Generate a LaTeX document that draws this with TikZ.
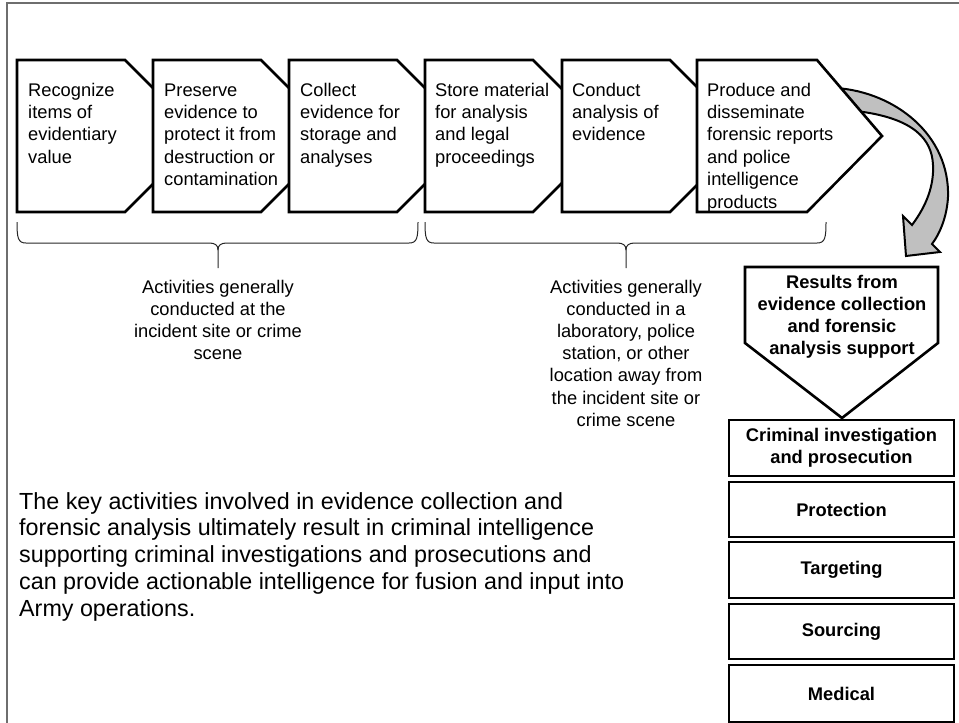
\documentclass[tikz,border=0pt]{standalone}
\usepackage{fontspec}
\setmainfont{Liberation Sans}
\definecolor{arrowgray}{HTML}{C0C0C0}
\definecolor{framegray}{HTML}{6E6E6E}
% stacked lines whose baseline is that of the first line
\newcommand{\leftlines}[1]{\begin{tabular}[t]{@{}l@{}}#1\end{tabular}}
\newcommand{\midlines}[1]{\begin{tabular}[t]{@{}c@{}}#1\end{tabular}}
\begin{document}
\begin{tikzpicture}[x=1pt,y=-1pt]
\tikzset{
  stage/.style={draw=black, line width=2.6pt, fill=white, line join=miter},
  stagetext/.style={anchor=base west, inner sep=0pt,
    font=\fontsize{18.3}{22.4}\selectfont},
  bracetext/.style={anchor=base, inner sep=0pt,
    font=\fontsize{18.3}{22.2}\selectfont},
  bracepath/.style={draw=black!85, line width=1pt},
  outbox/.style={draw=black, line width=2.6pt, fill=white, line join=miter},
  boldtext/.style={anchor=base, inner sep=0pt,
    font=\bfseries\fontsize{18.3}{22}\selectfont},
  resultbox/.style={outbox, minimum width=225pt, inner sep=0pt, align=center,
    font=\bfseries\fontsize{18.3}{22}\selectfont},
  frameline/.style={draw=framegray, line width=1.2pt},
  bodytext/.style={anchor=base west, inner sep=0pt,
    font=\fontsize{23.3}{26.8}\selectfont}
}
\useasboundingbox (0,0) rectangle (959,723);

% page frame
\draw[frameline] (7,723) -- (7,3) -- (959,3);

% curved ribbon arrow leading from the last stage to the results
\draw[fill=arrowgray, draw=black, line width=2pt, line join=miter]
  (836,88) .. controls (895,92) and (950,135) .. (948,197)
  .. controls (947,215) and (941,232) .. (932,244)
  -- (940,252) -- (906,256) -- (903,216) -- (912,225)
  .. controls (927,205) and (934,185) .. (933,165)
  .. controls (932,140) and (915,118) .. (856,111) -- cycle;

% process stages, each overlapping the point of the previous one
\foreach \L in {17,153,289,425,562}{
  \draw[stage] (\L,60) -- ++(108,0) -- ++(76,76) -- ++(-76,76) -- ++(-108,0) -- cycle;
}
\draw[stage] (697,60) -- (817,60) -- (882,136) -- (807,212) -- (697,212) -- cycle;

\node[stagetext] (s1) at (28,96) {\leftlines{Recognize\\items of\\evidentiary\\value}};
\node[stagetext] (s2) at (164,96) {\leftlines{Preserve\\evidence to\\protect it from\\destruction or\\contamination}};
\node[stagetext] (s3) at (300,96) {\leftlines{Collect\\evidence for\\storage and\\analyses}};
\node[stagetext] (s4) at (435,96) {\leftlines{Store material\\for analysis\\and legal\\proceedings}};
\node[stagetext] (s5) at (572,96) {\leftlines{Conduct\\analysis of\\evidence}};
\node[stagetext] (s6) at (707,96) {\leftlines{Produce and\\disseminate\\forensic reports\\and police\\intelligence\\products}};

% braces grouping the stages
\draw[bracepath] (17,222) .. controls (17,238) and (18,243) .. (26,243) -- (209,243)
  .. controls (215,243) and (218,245) .. (218,250) -- (218,268);
\draw[bracepath] (218,250) .. controls (218,245) and (221,243) .. (227,243) -- (409,243)
  .. controls (417,243) and (418,238) .. (418,222);
\draw[bracepath] (425,222) .. controls (425,238) and (426,243) .. (434,243) -- (617,243)
  .. controls (623,243) and (626,245) .. (626,250) -- (626,268);
\draw[bracepath] (626,250) .. controls (626,245) and (629,243) .. (635,243) -- (817,243)
  .. controls (825,243) and (826,238) .. (826,222);

\node[bracetext] (g1) at (218,293) {\midlines{Activities generally\\conducted at the\\incident site or crime\\scene}};
\node[bracetext] (g2) at (626,293) {\midlines{Activities generally\\conducted in a\\laboratory, police\\station, or other\\location away from\\the incident site or\\crime scene}};

% results and what they support
\draw[outbox] (745,267) -- (938,267) -- (938,343) -- (842,418) -- (745,343) -- cycle;
\node[boldtext] (res) at (842,288) {\midlines{Results from\\evidence collection\\and forensic\\analysis support}};

\node[resultbox, minimum height=56pt] (crim) at (841.5,448) {Criminal investigation\\and prosecution};
\node[resultbox, minimum height=55pt] (prot) at (841.5,509.5) {Protection};
\node[resultbox, minimum height=56pt] (targ) at (841.5,570) {Targeting};
\node[resultbox, minimum height=55pt] (sour) at (841.5,631.5) {Sourcing};
\node[resultbox, minimum height=57pt] (medi) at (841.5,693.5) {Medical};

% summary paragraph
\node[bodytext] (para) at (19,509) {\leftlines{The key activities involved in evidence collection and\\forensic analysis ultimately result in criminal intelligence\\supporting criminal investigations and prosecutions and\\can provide actionable intelligence for fusion and input into\\Army operations.}};
\end{tikzpicture}
\end{document}
